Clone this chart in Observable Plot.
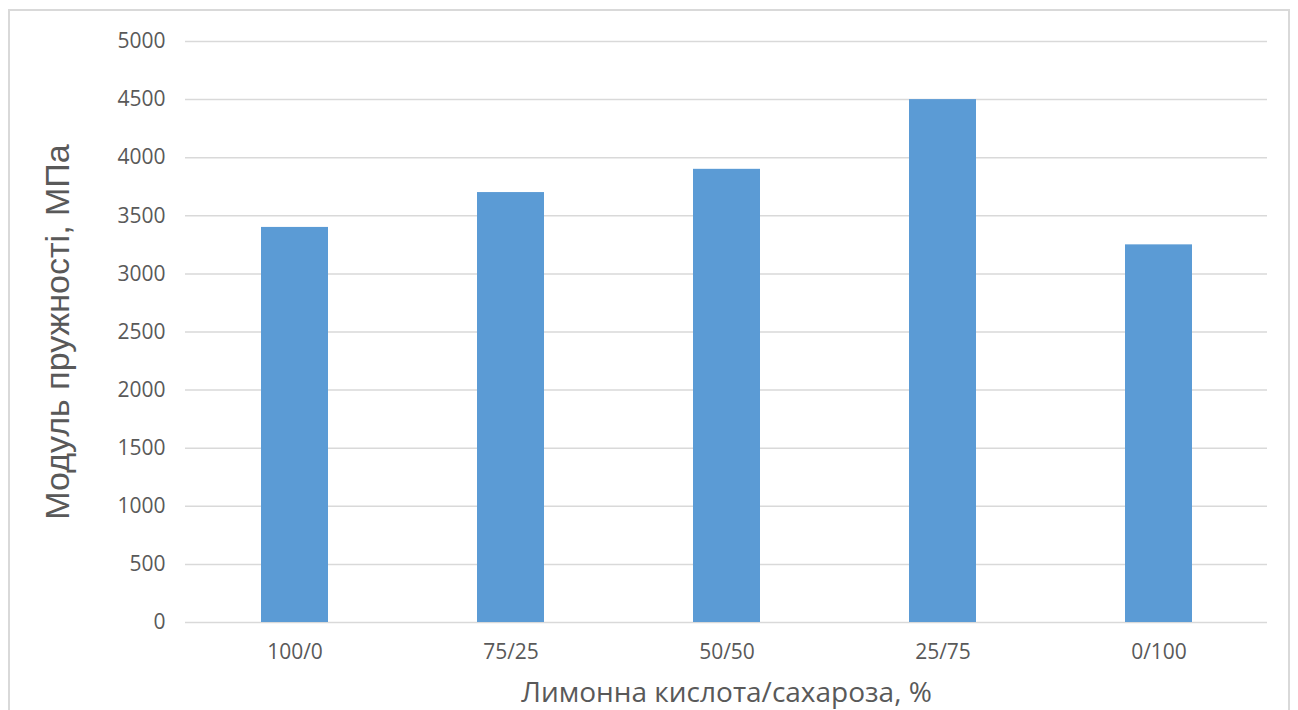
<!DOCTYPE html>
<html>
<head>
<meta charset="utf-8">
<script src="https://cdn.jsdelivr.net/npm/d3@7"></script>
<script src="https://cdn.jsdelivr.net/npm/@observablehq/plot@0.6"></script>
<style>
  html, body { margin: 0; padding: 0; background: #fff; overflow: hidden; }
  #wrap { position: relative; width: 1298px; height: 710px; }
  #border { position: absolute; left: 8px; top: 9px; width: 1282px; height: 720px;
            border: 2px solid #d9d9d9; box-sizing: border-box; pointer-events: none; }
  #chart { position: absolute; left: 0; top: 0; }
</style>
</head>
<body>
<div id="wrap">
  <div id="chart"></div>
  <div id="border"></div>
</div>
<script>
// Ratio of citric acid to sucrose, %
const ratios = ["100/0", "75/25", "50/50", "25/75", "0/100"];
// Elastic modulus, MPa
const modulus = [3400, 3700, 3900, 4500, 3250];
// Value axis ticks
const yTicks = [0, 500, 1000, 1500, 2000, 2500, 3000, 3500, 4000, 4500, 5000];

const xTitle = "Лимонна кислота/сахароза, %";
const yTitle = "Модуль пружності, МПа";

const data = ratios.map((r, i) => ({ratio: r, value: modulus[i]}));

const textColor = "#595959";
const tickFont = "'Open Sans', sans-serif";

const chart = Plot.plot({
  width: 1298,
  height: 710,
  marginLeft: 185,
  marginRight: 31,
  marginTop: 41,
  marginBottom: 88,
  style: { background: "#fff", color: textColor },
  x: { domain: ratios, paddingInner: 0.69, paddingOuter: 0.345, label: null },
  y: { domain: [0, 5000], label: null },
  marks: [
    Plot.ruleY(yTicks, { stroke: "#d9d9d9", strokeWidth: 1.5 }),
    Plot.barY(data, { x: "ratio", y: "value", fill: "#5b9bd5" }),
    Plot.axisY(yTicks, { tickSize: 0, tickPadding: 20, label: null, tickFormat: "d",
      fontSize: 21, fontFamily: tickFont, fill: textColor }),
    Plot.axisX({ tickSize: 0, tickPadding: 22, label: null,
      fontSize: 21, fontFamily: tickFont, fill: textColor }),
    Plot.text([yTitle], { frameAnchor: "left", dx: -127, rotate: -90,
      textAnchor: "middle", lineAnchor: "middle",
      fontSize: 34, fontFamily: "'Liberation Sans', Arial, sans-serif", fill: textColor }),
    Plot.text([xTitle], { frameAnchor: "bottom", dy: 71, textAnchor: "middle", lineAnchor: "middle",
      fontSize: 28, fontFamily: tickFont, fill: textColor })
  ]
});

document.getElementById("chart").appendChild(chart);
</script>
</body>
</html>
